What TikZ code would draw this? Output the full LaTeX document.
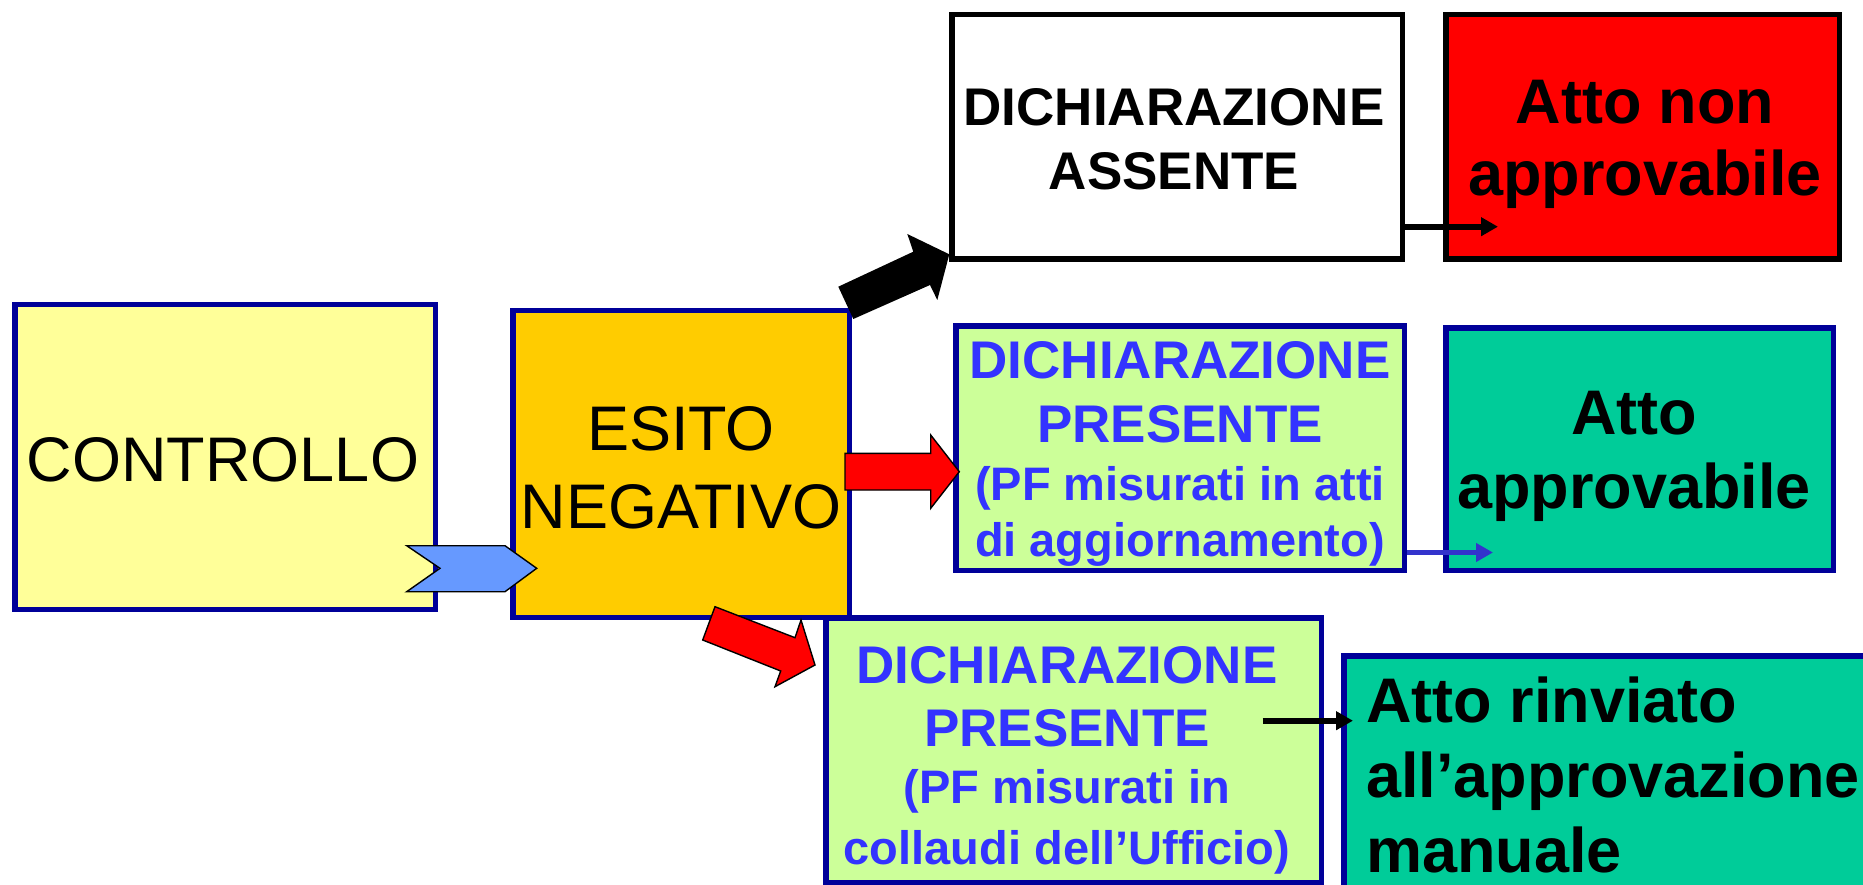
\documentclass[tikz,border=0pt]{standalone}
\usepackage{fontspec}
\setmainfont{Liberation Sans}
\usetikzlibrary{arrows.meta,calc}
\definecolor{dkblue}{HTML}{000099}
\definecolor{yel}{HTML}{FFFF99}
\definecolor{orng}{HTML}{FFCC00}
\definecolor{lgreen}{HTML}{CCFF99}
\definecolor{teal2}{HTML}{00CC99}
\definecolor{txtblue}{HTML}{3333FF}
\definecolor{chev}{HTML}{6699FF}
\definecolor{arrblue}{HTML}{3333CC}
\begin{document}
\begin{tikzpicture}[x=1pt,y=-1pt,
  box/.style={line width=5.5pt,inner sep=0pt,draw=dkblue},
  txt/.style={inner sep=0pt,align=center},
  blk/.style={draw=black,line width=1.4pt,line join=miter},
  thin/.style={line width=6.3pt,-{Triangle[length=17pt,width=18pt]}},
]
\useasboundingbox (0,0) rectangle (1863,885);
\clip (0,0) rectangle (1863,885);
\fill[white] (0,0) rectangle (1863,885);

% boxes
\node[box,fill=yel,minimum width=420.5pt,minimum height=304.5pt] (b1) at (225,457) {};
\node[box,fill=orng,minimum width=336.5pt,minimum height=306.5pt] (b2) at (681,464) {};
\node[box,draw=black,fill=white,minimum width=450.5pt,minimum height=244.5pt] (b3) at (1177,137) {};
\node[box,draw=black,fill=red,minimum width=393.5pt,minimum height=244.5pt] (b4) at (1642.5,137) {};
\node[box,fill=lgreen,minimum width=448.5pt,minimum height=244.5pt] (b5) at (1180,448) {};
\node[box,fill=teal2,minimum width=387.5pt,minimum height=242.5pt] (b6) at (1639.5,449) {};
\node[box,fill=lgreen,minimum width=495.5pt,minimum height=264.5pt] (b7) at (1073.5,750) {};
\node[box,fill=teal2,minimum width=563.5pt,minimum height=251.5pt] (b8) at (1625.5,781.5) {};

% block arrows
\draw[blk,fill=chev] (406.7,545.7) -- (505,545.7) -- (536.7,568.3) -- (505,591.7) -- (406.7,591.7) -- (440,568.3) -- cycle;
\draw[blk,fill=red] (845,453.3) -- (930.7,453.3) -- (930.7,435) -- (959.3,471.7) -- (930.7,508.3) -- (930.7,490) -- (845,490) -- cycle;
\draw[blk,fill=red] (715,606.7) -- (795,637.7) -- (801,620) -- (815,665) -- (775,686.7) -- (780.7,671) -- (702.7,640) -- cycle;
\fill[black] (838.3,286.7) -- (913.3,251.7) -- (907.3,234) -- (949.3,254.3) -- (937.3,300) -- (930,285) -- (853.3,319) -- cycle;

% thin arrows
\coordinate (e1) at (1498,226.7);
\draw[thin] (b3.east |- e1) -- (e1);
\coordinate (e2) at (1493,552.5);
\draw[thin,draw=arrblue,fill=arrblue,line width=5.5pt] (b5.east |- e2) -- (e2);
\coordinate (s3) at (1262.7,720.7);
\draw[thin,line width=6pt] (s3) -- ($(b8.west |- s3)+(12,0)$);

% texts
\node[txt,font={\fontsize{63}{78}\selectfont}] (t1) at (223,460) {CONTROLLO};
\node[txt,font={\fontsize{63}{78}\selectfont}] (t2) at (681,468) {ESITO\\NEGATIVO};
\node[txt,font={\bfseries\fontsize{53}{64}\selectfont}] (t3) at (1174,139) {DICHIARAZIONE\\ASSENTE};
\node[txt,font={\bfseries\fontsize{63}{72}\selectfont}] (t4) at (1645,144.5) {Atto non\\approvabile};
\node[txt,text=txtblue,font={\bfseries\fontsize{53}{64}\selectfont}] (t5) at (1180,454)
  {DICHIARAZIONE\\PRESENTE\\[-6pt]{\fontsize{47}{64}\selectfont (PF misurati in atti}\\[-8pt]{\fontsize{47}{64}\selectfont di aggiornamento)}};
\node[txt,font={\bfseries\fontsize{63}{74}\selectfont}] (t6) at (1634,456) {Atto\\approvabile};
\node[txt,text=txtblue,font={\bfseries\fontsize{53}{63}\selectfont}] (t7) at (1067,760.5)
  {DICHIARAZIONE\\PRESENTE\\[-6pt]{\fontsize{47}{63}\selectfont (PF misurati in}\\[-2pt]{\fontsize{47}{63}\selectfont collaudi dell’Ufficio)}};
\node[txt,align=left,anchor=west,font={\bfseries\fontsize{63}{75}\selectfont}] (t8) at (1366,775) {Atto rinviato\\all’approvazione\\manuale};
\end{tikzpicture}
\end{document}
